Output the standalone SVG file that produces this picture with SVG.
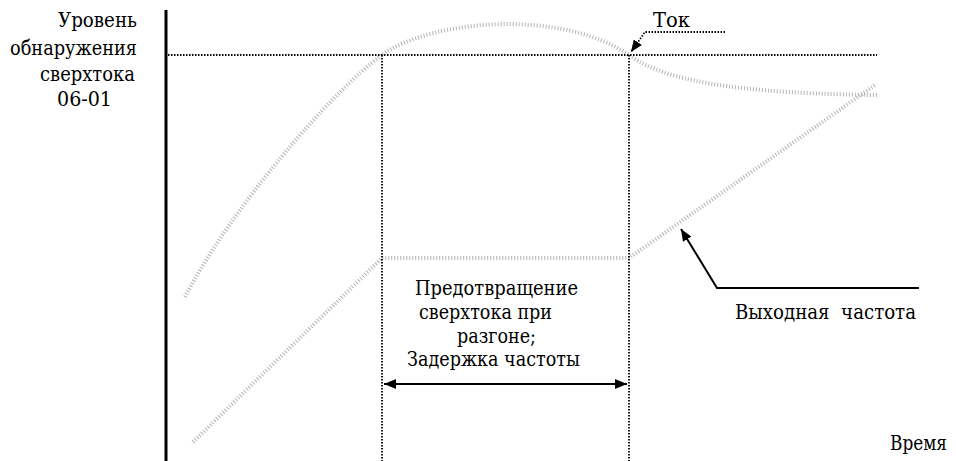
<svg xmlns="http://www.w3.org/2000/svg" width="956" height="461" viewBox="0 0 956 461">
<style>
text{font-family:'DejaVu Serif',serif;font-size:20px;fill:#000}
.dot{fill:none;stroke:#000;stroke-width:1.8;stroke-dasharray:1.5 1.5}
.hatch{fill:none;stroke:#b3b3b3;stroke-width:4;stroke-dasharray:1 2}
.solid{fill:none;stroke:#000;stroke-width:2}
</style>
<defs>
<marker id="ah" viewBox="0 0 12 10" refX="12" refY="5" markerWidth="12" markerHeight="10" markerUnits="userSpaceOnUse" orient="auto-start-reverse">
<path d="M0,0 L12,5 L0,10 Z" fill="#000"/>
</marker>
</defs>
<rect width="956" height="461" fill="#fff"/>
<g id="axis">
<line x1="166" y1="10" x2="166" y2="461" stroke="#000" stroke-width="3"/>
</g>
<g id="curves">
<path id="current" class="hatch" d="M185,297 C230,210 330,93 382,55 C430,20 560,8 629,55 C655,73 700,93 877,95"/>
<path id="frequency" class="hatch" d="M193,442 L382,258 L629,258 L875,85"/>
</g>
<g id="connectors">
<line class="dot" x1="168" y1="55" x2="877" y2="55"/>
<line class="dot" x1="382" y1="55" x2="382" y2="461"/>
<line class="dot" x1="629" y1="55" x2="629" y2="461"/>
<path class="dot" d="M725,32 L645,32 L631,52" marker-end="url(#ah)"/>
<line class="solid" x1="384" y1="384" x2="627" y2="384" marker-start="url(#ah)" marker-end="url(#ah)"/>
<path class="solid" d="M919,288 L717,288 L681,229" marker-end="url(#ah)"/>
</g>
<g id="label-level">
<text x="58" y="27" textLength="79" lengthAdjust="spacingAndGlyphs">Уровень</text>
<text x="10" y="55" textLength="127" lengthAdjust="spacingAndGlyphs">обнаружения</text>
<text x="40" y="81" textLength="95" lengthAdjust="spacingAndGlyphs">сверхтока</text>
<text x="57" y="106" textLength="55" lengthAdjust="spacingAndGlyphs">06-01</text>
</g>
<g id="label-current"><text x="653" y="27" textLength="37" lengthAdjust="spacingAndGlyphs">Ток</text></g>
<g id="label-prevent">
<text x="415" y="295" textLength="163" lengthAdjust="spacingAndGlyphs">Предотвращение</text>
<text x="419" y="319" textLength="133" lengthAdjust="spacingAndGlyphs">сверхтока при</text>
<text x="457" y="343" textLength="79" lengthAdjust="spacingAndGlyphs">разгоне;</text>
<text x="407" y="366" textLength="173" lengthAdjust="spacingAndGlyphs">Задержка частоты</text>
</g>
<g id="label-freq"><text x="735" y="319" xml:space="preserve" textLength="181" lengthAdjust="spacingAndGlyphs">Выходная  частота</text></g>
<g id="label-time"><text x="890" y="450" textLength="57" lengthAdjust="spacingAndGlyphs">Время</text></g>
</svg>
